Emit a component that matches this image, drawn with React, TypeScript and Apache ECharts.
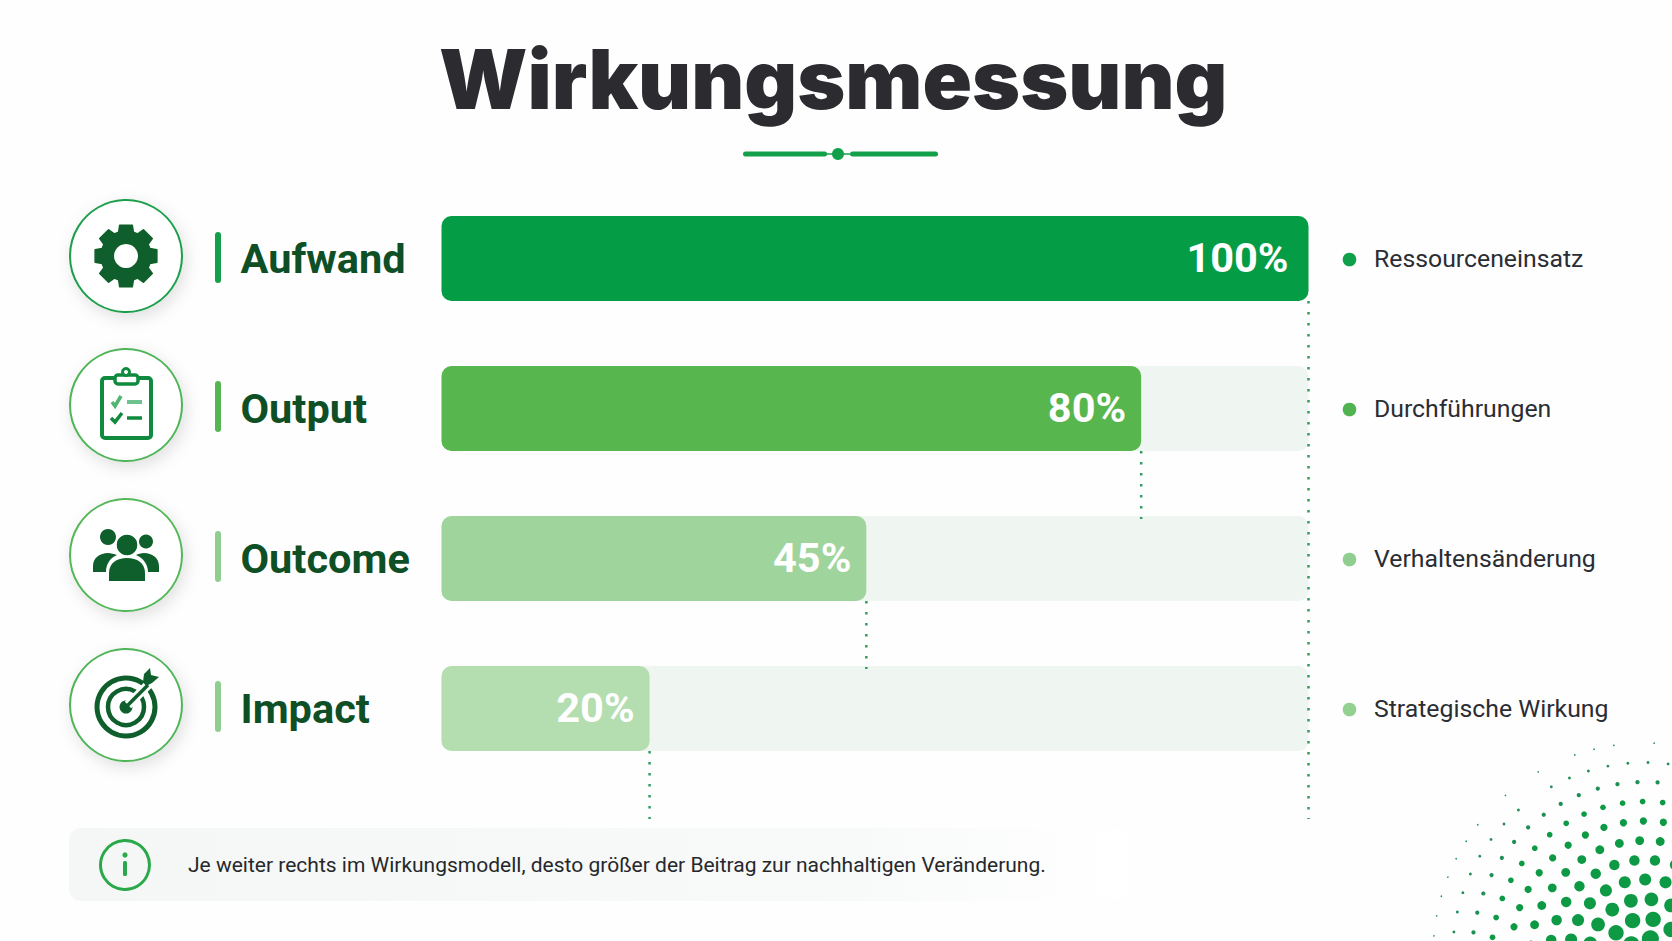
import React, { useEffect, useRef } from 'react';
import * as echarts from 'echarts';

const stages = ['Aufwand', 'Output', 'Outcome', 'Impact'];
const descriptions = ['Ressourceneinsatz', 'Durchführungen', 'Verhaltensänderung', 'Strategische Wirkung'];
// printed percentages
const percentLabels = [100, 80, 45, 20];
// drawn lengths, they do not follow the printed numbers exactly
const barLengths = [100, 80.7, 49, 24];
const trackValues = [100, 100, 100, 100];
const barColors = ['#049d46', '#57b64e', '#9fd59c', '#b4deb0'];
const accentColors = ['#12a04a', '#55b552', '#8fce8e', '#8fce8e'];
const ringColors = ['#1c9f4c', '#4fb558', '#55b75a', '#4fb558'];
const dotColors = ['#0fa04a', '#4fb34f', '#8fce8e', '#93d191'];
// value, row the line starts under, row it runs down to
const dropLines = [
  [100, 0, 4],
  [80.7, 1, 2],
  [49, 2, 3],
  [24, 3, 4]
];

const noteText = 'Je weiter rechts im Wirkungsmodell, desto größer der Beitrag zur nachhaltigen Veränderung.';

const DARK = '#0f5f2c';
const MID = '#0f8a3e';
const BAR_H = 85;

const ICON_Y = [256, 405, 555, 705];
const ICON_X = 126;
const LEGEND_DOT_Y = [259.5, 409.5, 559.5, 709.5];

echarts.graphic.registerShape(
  'bodyMid',
  echarts.graphic.extendPath('M109 581 L109 573 C109 563 117 558 127 558 C137 558 145 563 145 573 L145 581 Z', {})
);
echarts.graphic.registerShape(
  'bodyLeft',
  echarts.graphic.extendPath('M93 572 L93 566 C93 558 100 553 108 553 C111 553 114 554 117 555 C110 558 106 564 106 572 Z', {})
);
echarts.graphic.registerShape(
  'bodyRight',
  echarts.graphic.extendPath('M159 572 L159 566 C159 558 152 553 144 553 C141 553 138 554 136 555 C143 558 148 564 148 572 Z', {})
);

function gearPoints(cx: number, cy: number) {
  const pts: number[][] = [];
  for (let i = 0; i < 8; i++) {
    const a = (i * Math.PI) / 4 - Math.PI / 2;
    const step = 0.2;
    pts.push([cx + 25 * Math.cos(a - step * 1.5), cy + 25 * Math.sin(a - step * 1.5)]);
    pts.push([cx + 31.5 * Math.cos(a - step), cy + 31.5 * Math.sin(a - step)]);
    pts.push([cx + 31.5 * Math.cos(a + step), cy + 31.5 * Math.sin(a + step)]);
    pts.push([cx + 25 * Math.cos(a + step * 1.5), cy + 25 * Math.sin(a + step * 1.5)]);
  }
  return pts;
}

function iconElements() {
  const els: any[] = [];
  ICON_Y.forEach((y, i) => {
    els.push({
      type: 'circle',
      shape: { cx: ICON_X, cy: y, r: 56 },
      style: { fill: '#fff', stroke: ringColors[i], lineWidth: 2, shadowBlur: 16, shadowColor: 'rgba(0,0,0,0.12)', shadowOffsetX: 3, shadowOffsetY: 5 }
    });
    els.push({
      type: 'rect',
      shape: { x: 215, y: y - 24, width: 6, height: 51, r: 3 },
      style: { fill: accentColors[i] }
    });
    els.push({
      type: 'circle',
      shape: { cx: 1349.5, cy: LEGEND_DOT_Y[i], r: 6.8 },
      style: { fill: dotColors[i] }
    });
  });

  // gear
  els.push({ type: 'polygon', shape: { points: gearPoints(ICON_X, ICON_Y[0]) }, style: { fill: DARK, stroke: DARK, lineWidth: 1.5, lineJoin: 'round' } });
  els.push({ type: 'circle', shape: { cx: ICON_X, cy: ICON_Y[0], r: 12 }, style: { fill: '#fff' } });

  // clipboard
  els.push({ type: 'rect', shape: { x: 102, y: 378, width: 49, height: 60, r: 3 }, style: { fill: 'none', stroke: MID, lineWidth: 4 } });
  els.push({ type: 'rect', shape: { x: 115, y: 375, width: 23, height: 9, r: 3 }, style: { fill: '#fff', stroke: MID, lineWidth: 3.5 } });
  els.push({ type: 'circle', shape: { cx: 126, cy: 372, r: 3.5 }, style: { fill: '#fff', stroke: MID, lineWidth: 3 } });
  els.push({ type: 'polyline', shape: { points: [[112, 402], [115, 406], [121, 396]] }, style: { fill: 'none', stroke: '#4fb573', lineWidth: 3.5 } });
  els.push({ type: 'line', shape: { x1: 127, y1: 402, x2: 142, y2: 402 }, style: { stroke: '#6fc28f', lineWidth: 4 } });
  els.push({ type: 'polyline', shape: { points: [[111, 418], [115, 422], [122, 413]] }, style: { fill: 'none', stroke: MID, lineWidth: 3.5 } });
  els.push({ type: 'line', shape: { x1: 127, y1: 418, x2: 142, y2: 418 }, style: { stroke: MID, lineWidth: 3.5 } });

  // people
  els.push({ type: 'circle', shape: { cx: 108, cy: 537, r: 8 }, style: { fill: DARK } });
  els.push({ type: 'circle', shape: { cx: 146, cy: 541.5, r: 7 }, style: { fill: DARK } });
  els.push({ type: 'bodyLeft', style: { fill: DARK } });
  els.push({ type: 'bodyRight', style: { fill: DARK } });
  els.push({ type: 'circle', shape: { cx: 127, cy: 545, r: 11 }, style: { fill: DARK, stroke: '#fff', lineWidth: 1.5 } });
  els.push({ type: 'bodyMid', style: { fill: DARK } });

  // target
  const ty = ICON_Y[3] + 2;
  els.push({ type: 'circle', shape: { cx: ICON_X, cy: ty, r: 29 }, style: { fill: 'none', stroke: DARK, lineWidth: 5 } });
  els.push({ type: 'circle', shape: { cx: ICON_X, cy: ty, r: 18 }, style: { fill: 'none', stroke: DARK, lineWidth: 4.5 } });
  els.push({ type: 'circle', shape: { cx: ICON_X, cy: ty, r: 6.5 }, style: { fill: DARK } });
  els.push({ type: 'line', shape: { x1: ICON_X + 2, y1: ty - 2, x2: 158, y2: 675 }, style: { stroke: '#fff', lineWidth: 9 } });
  els.push({ type: 'line', shape: { x1: ICON_X, y1: ty, x2: 148, y2: 685 }, style: { stroke: DARK, lineWidth: 3.5 } });
  els.push({ type: 'polygon', shape: { points: [[143, 682], [144, 674], [150, 668], [151, 675], [159, 677], [152, 683], [146, 686]] }, style: { fill: DARK } });

  // title rule
  els.push({ type: 'rect', shape: { x: 743, y: 151.5, width: 84, height: 5, r: 2.5 }, style: { fill: '#12a04a' } });
  els.push({ type: 'rect', shape: { x: 850, y: 151.5, width: 88, height: 5, r: 2.5 }, style: { fill: '#12a04a' } });
  els.push({ type: 'line', shape: { x1: 826, y1: 154, x2: 850, y2: 154 }, style: { stroke: '#12a04a', lineWidth: 1.5 } });
  els.push({ type: 'circle', shape: { cx: 838, cy: 154, r: 6 }, style: { fill: '#12a04a' } });

  // note box
  els.push({
    type: 'rect',
    shape: { x: 69, y: 828, width: 1060, height: 73, r: 12 },
    style: {
      fill: new echarts.graphic.LinearGradient(0, 0, 1, 0, [
        { offset: 0, color: '#f4f7f5' },
        { offset: 0.75, color: '#f8faf9' },
        { offset: 1, color: '#ffffff' }
      ])
    }
  });
  els.push({ type: 'circle', shape: { cx: 125, cy: 865, r: 24.5 }, style: { fill: 'none', stroke: '#2ba84a', lineWidth: 3 } });
  els.push({ type: 'circle', shape: { cx: 125, cy: 855, r: 2.6 }, style: { fill: '#2ba84a' } });
  els.push({ type: 'rect', shape: { x: 123, y: 861, width: 4, height: 15, r: 1.5 }, style: { fill: '#2ba84a' } });
  els.push({
    type: 'text',
    style: { x: 188, y: 865, text: noteText, fill: '#26282c', font: '400 21px Roboto', textVerticalAlign: 'middle' }
  });

  // halftone in the corner
  const cx = 1645;
  const cy = 955;
  const outer = 212;
  for (let r = outer; r > 10; r -= 19.5) {
    const n = Math.floor((2 * Math.PI * r) / 20);
    for (let k = 0; k < n; k++) {
      const a = (k / n) * Math.PI * 2 + r * 0.37;
      const x = cx + r * Math.cos(a);
      const y = cy + r * Math.sin(a);
      if (x < 1680 && y < 950) {
        els.push({
          type: 'circle',
          silent: true,
          shape: { cx: x, cy: y, r: 0.8 + Math.pow((outer - r) / outer, 1.1) * 8.5 },
          style: { fill: r > 170 ? '#1f8f55' : '#0e9a45' }
        });
      }
    }
  }
  return els;
}

const App: React.FC = () => {
  const chartRef = useRef<HTMLDivElement>(null);

  useEffect(() => {
    if (!chartRef.current) return;
    const chart = echarts.init(chartRef.current, null, { renderer: 'svg' });

    const option: any = {
      animation: false,
      backgroundColor: '#fefefe',
      title: {
        text: 'Wirkungsmessung',
        left: 434,
        top: 33,
        textStyle: { fontFamily: 'Inter', fontWeight: 900, fontSize: 81.8, color: '#2b2b30' }
      },
      grid: { left: 441.5, top: 183.5, width: 867, height: 600 },
      xAxis: { type: 'value', min: 0, max: 100, show: false },
      yAxis: [
        {
          type: 'category',
          inverse: true,
          data: stages,
          axisLine: { show: false },
          axisTick: { show: false },
          axisLabel: {
            margin: 201,
            align: 'left',
            fontFamily: 'Roboto',
            fontWeight: 700,
            fontSize: 41.5,
            color: '#0e4f26',
            padding: [0, 0, 2, 0]
          }
        },
        {
          type: 'category',
          inverse: true,
          position: 'right',
          data: descriptions,
          axisLine: { show: false },
          axisTick: { show: false },
          axisLabel: {
            margin: 65.5,
            align: 'left',
            fontFamily: 'Roboto',
            fontSize: 24.8,
            color: '#2a2d33'
          }
        }
      ],
      series: [
        {
          type: 'bar',
          silent: true,
          data: trackValues,
          barWidth: BAR_H,
          barGap: '-100%',
          itemStyle: { color: '#eff6f1', borderRadius: 10 }
        },
        {
          type: 'bar',
          data: barLengths.map((v, i) => ({
            value: v,
            itemStyle: { color: barColors[i] },
            label: { distance: i === 0 ? 20 : 15 }
          })),
          barWidth: BAR_H,
          barGap: '-100%',
          itemStyle: { borderRadius: 10 },
          label: {
            show: true,
            position: 'insideRight',
            offset: [0, -1],
            fontFamily: 'Roboto',
            fontWeight: 700,
            fontSize: 41.5,
            color: '#fff',
            formatter: (p: any) => `${percentLabels[p.dataIndex]}%`
          }
        },
        {
          type: 'custom',
          silent: true,
          clip: false,
          z: 5,
          data: dropLines,
          encode: { x: 0, y: 1 },
          renderItem: (_: any, api: any) => {
            const start = api.coord([api.value(0), api.value(1)]);
            const end = api.coord([api.value(0), api.value(2)]);
            return {
              type: 'line',
              shape: { x1: start[0], y1: start[1] + BAR_H / 2, x2: start[0], y2: end[1] - BAR_H / 2 + 3 },
              style: { stroke: '#2f9e5f', lineWidth: 2.5, lineDash: [2.5, 8.5], fill: 'none' }
            };
          }
        }
      ],
      graphic: { elements: iconElements() }
    };

    chart.setOption(option);

    return () => {
      chart.dispose();
    };
  }, []);

  return <div ref={chartRef} style={{ position: 'absolute', left: 0, top: 0, width: 1672, height: 941 }} />;
};

export default App;
